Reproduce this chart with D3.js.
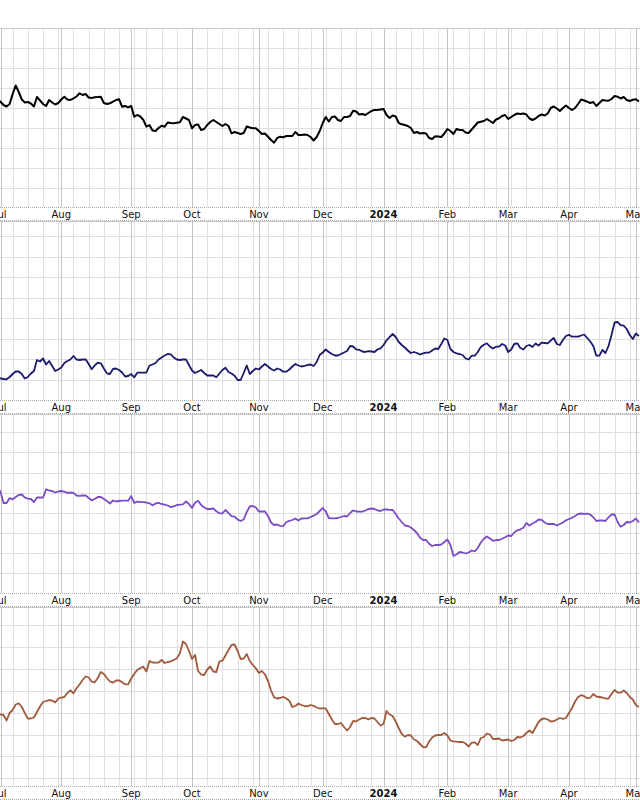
<!DOCTYPE html>
<html><head><meta charset="utf-8">
<script src="https://cdn.jsdelivr.net/npm/d3@7"></script>
<style>body{margin:0;background:#fff}svg{display:block}</style>
</head><body>
<svg id="chart" width="640" height="800"></svg>
<script>
// ---- data ----
const startDate = "2023-06-30";
const endDate = "2024-05-02";
const holidays = ["2023-07-04","2023-09-04","2023-11-23","2023-12-25","2024-01-01","2024-01-15","2024-02-19","2024-03-29"];
const monthLabels = ["Jul","Aug","Sep","Oct","Nov","Dec","2024","Feb","Mar","Apr","May"];
const boldLabels = ["2024"];

const seriesA = [107,105.3,102,100.5,103,113,121.5,115,107.5,104.5,
105,103.5,100.5,110,106.5,103,101,107,104.5,102.5,
104,107.5,110.3,107.5,107,108.7,110.5,113.7,112,113,
109.5,109,109.7,110,110.3,104,103,103.7,105.3,107,
107.7,100.3,101,99.7,101,90.3,92,90.5,87,80.3,
82,76.5,76,79,81.3,80.3,84.5,84,83.7,84.3,
84.7,90,88.5,87,78.7,82,82.5,77,78,82,
85,87,85,83,81,83,81,73.7,75,74,
73,74,80.5,79.5,78.7,78.7,76,73,73.5,70.3,
67,64.3,69,70.3,69.7,71,71,71,75,72,
72,72.5,72,70,66.5,70,76,84,90,85.5,
90,90.5,87,86,90,90,91,96.3,95.5,92.5,
93,92,94,96,97,97,97.5,98,92,89,
91.5,90.5,84,82.7,82,81,79,74,75,73.5,
74,73.5,69,68,70.7,70.5,70,73.5,78,76,
73,78,77,77,74.5,74,77.5,81,84.5,85.3,
86,88,86,84,87.5,88.7,91,92,88,90,
92,93.5,93,93.5,92.5,88.5,87,88.5,91,92.5,
91.5,93.5,99,100.5,98.5,96,99,101.5,99,97,
99,103,107.5,106.5,105.3,104,105,101,104,107,
106.5,106.3,108,111,110.3,108.5,110,107,106,107.2,
107.7,105.5];

const seriesB = [22,21.7,21,20.7,23,26,28.5,28.5,26,21.5,
23,26.5,29,40,38.5,41.5,35.5,39,34,29,
30.5,32.5,37,39,40.5,44,40.5,40,40.5,40.7,
36,30.7,34.5,37.3,36.7,31.5,26.7,26,31,31.5,
30,27.5,23.5,24,26,22.7,27.3,27.3,27.3,27.5,
34.5,35.5,37,40.5,42.5,44.5,46,45.7,42.5,40.5,
40,40.5,40.7,35,29.5,27,28.5,30,27,24.5,
24.5,24.5,22.7,26.5,30,32.3,28,26.5,24.3,20,
20,27,34.5,26,29,31.5,30.5,33.5,36,33.5,
31,29.5,31.5,30.5,28.3,28.3,30.5,33.5,36,34.5,
33.5,34.2,35,35.5,34,38,45,47.5,50.5,48,
46,44.5,44.5,46,47.5,49,54,53.5,50.7,50.2,
48.5,48,48.8,48.5,48,50.5,51.7,55,59.7,63,
66,63,58,55,52.5,49.5,47,48,47,45.5,
46.7,47.4,47.5,49.5,51.5,51,56,61.5,60,51,
48,46.7,46,45,41.5,40.5,44.3,44.3,48,53,
55.3,56.7,53.5,51.5,53.3,53.3,56,54.5,48,50.5,
56,56.7,52,50.5,54,55,53,56.5,54.5,57.3,
57,56.7,59.5,62,56,55,60,64,65.2,63.3,
63.3,63.3,64.5,65.5,62,58.5,54,44.3,44.3,50,
47,54,65,77.5,78,74.8,74.3,71,65,61,
66.5,64];

const seriesC = [106,101,90,90,95,93.7,96,98,98.5,95.5,
94.3,94,91,95.5,95.5,95.3,103.7,102.5,101.8,100.5,
101.5,102,101.3,100,100.5,100.2,97.5,97.2,97.5,97.7,
95,92.7,94,96,96,94,92,89.5,92.5,91.5,
92,92.3,92.3,92.3,97,90,91.3,91,90.8,90.5,
89.7,87.7,89.5,90.2,89,88.3,87.5,86,86.7,88,
88.3,88.7,91.5,89,85,90.3,92.2,88,85.5,84,
84,84.7,81.7,79.7,79.7,83,80,76.8,76.4,73.5,
72,73.5,81,86.5,87,85.5,81.5,81.5,81.5,77,
70.5,68,68.5,67.2,66.8,71,72.2,73,74.5,72.5,
74.5,74.7,74.7,76,77.3,79,82,85,81.5,75,
74.7,74.7,75,76,77,76.5,80,82.7,81.5,81.3,
81.3,82.5,83.8,84.5,84,82.7,82,83.5,83.5,83.2,
83,79,74.5,71,67.5,67,65.5,63,60,55.2,
53,53,49.3,47,48,48,48.5,51,53.5,48,
37,38.5,41,40.5,39.5,40.5,42.5,41.7,45,50.5,
54.2,56.5,54.5,52.2,53,53,54.2,55.7,57.5,57,
60.5,62.7,63.7,65.3,70,67.5,69.5,71,73.5,73.2,
70.5,69,69,69,67.5,69,70.5,72.7,74,75.2,
77,79,79.5,79.2,79.3,78.5,75.7,72,72.5,72.5,
72,75.7,78.5,78.5,71,66.3,68,71,70.5,72,
74.5,70.5];

const seriesD = [73,71.7,71,65.5,73,76,81.5,82.7,79,73,
67.3,67.5,68.5,74,79.5,84,85,85.8,85.5,83.5,
87.5,88.3,89,93,95.7,92.7,97.7,101.5,106,109.5,
108.5,104.3,103.7,108,114,112,108,104.5,103.3,105.5,
105.7,103.7,101.7,101.7,107.5,112.2,116,118,119.3,114.5,
125,123.5,123.3,123.5,126,123,124,124.7,126,127.7,
132.5,144.5,142,135,127,131,115,111.5,111,116.5,
119.5,114.5,114,124.5,125.3,130.5,136,141,141.5,135,
127,127.5,132,125,121,117.7,113,115,111.5,105,
95.5,88.7,87.5,88,89.2,87.5,85.3,79,80,82.5,
81,80,79.7,81,80.2,78.5,77.5,77.7,77.7,72,
66.5,62,62,63,59,55.5,59,65,64.7,66.5,
68,68,66.7,68,67.5,64,60.5,62,75,71.5,
70,64.5,58,52,49.3,51,50.5,46.5,45,42,
39,38.7,44.5,48.5,50.5,51,51,53,50.5,45.5,
44.7,44.3,44,44,42.5,39.5,43.3,43.7,41,48,
49,52.5,51.5,47,47,47.5,45.5,46,46.5,45,
46,49,48.5,50,53,55.5,53,58.5,64,67,
67.5,66.5,64.5,64.8,66.5,68,67.2,68,73,78,
84.5,89,90.8,89.8,87.8,88.2,92,89.5,89,88.5,
87.5,87.4,92,96,93.5,93.3,95.5,93,89,86.5,
81,79];

const seriesList = [seriesA, seriesB, seriesC, seriesD];
const seriesColors = ["#000000", "#1b1a6b", "#7c4cc6", "#a05a3e"];
const yMax = [179, 179, 179, 179];
const gridStart = [19.3, 20.5, 20, 7.7];
const gridStep = [19.9, 20.5, 20.1, 21.9];

// ---- trading calendar ----
const parse = d3.utcParse("%Y-%m-%d");
const fmt = d3.utcFormat("%Y-%m-%d");
const holidaySet = new Set(holidays);
const dates = d3.utcDay.range(parse(startDate), d3.utcDay.offset(parse(endDate), 1))
  .filter(d => d.getUTCDay() !== 0 && d.getUTCDay() !== 6 && !holidaySet.has(fmt(d)));

const monthStarts = [], weekStarts = [];
dates.forEach((d, i) => {
  if (i === 0) return;
  const p = dates[i - 1];
  if (d.getUTCMonth() !== p.getUTCMonth()) monthStarts.push(i);
  if (+d3.utcMonday.floor(d) !== +d3.utcMonday.floor(p)) weekStarts.push(i);
});

// ---- layout ----
const W = 640, pxPerDay = 3.04, x0 = 0.5;
const panelTop0 = 28, panelPitch = 193, plotH = 179, bandH = 14;
const first = monthStarts[0];
const x = d3.scaleLinear().domain([first, first + 1]).range([x0, x0 + pxPerDay]);

const svg = d3.select("#chart");
svg.append("rect").attr("width", W).attr("height", 800).attr("fill", "#fff");

seriesList.forEach((vals, p) => {
  const top = panelTop0 + p * panelPitch;
  const y = d3.scaleLinear().domain([0, yMax[p]]).range([top + plotH, top]);
  const g = svg.append("g");
  const clipId = "clip" + p;
  svg.append("clipPath").attr("id", clipId).append("rect")
    .attr("x", 0).attr("y", top).attr("width", W).attr("height", plotH);

  // horizontal grid
  const hg = d3.range(gridStart[p], yMax[p] - 1, gridStep[p]);
  g.selectAll(".hg").data(hg).join("line")
    .attr("x1", 0).attr("x2", W)
    .attr("y1", d => Math.round(y(d)) + 0.5).attr("y2", d => Math.round(y(d)) + 0.5)
    .attr("stroke", "#dedede").attr("stroke-width", 1);

  // weekly grid
  g.selectAll(".wg").data(weekStarts.filter(i => !monthStarts.includes(i))).join("line")
    .attr("x1", i => Math.round(x(i)) + 0.5).attr("x2", i => Math.round(x(i)) + 0.5)
    .attr("y1", top).attr("y2", top + plotH)
    .attr("stroke", "#e0e0e0").attr("stroke-width", 1);

  // monthly grid
  g.selectAll(".mg").data(monthStarts).join("line")
    .attr("x1", i => Math.round(x(i)) + 0.5).attr("x2", i => Math.round(x(i)) + 0.5)
    .attr("y1", top).attr("y2", top + plotH)
    .attr("stroke", "#c4c4c4").attr("stroke-width", 1);

  // top border
  g.append("line").attr("x1", 0).attr("x2", W)
    .attr("y1", top + 0.5).attr("y2", top + 0.5)
    .attr("stroke", "#c8c8c8");

  // series line
  const line = d3.line().x((d, i) => x(i)).y(d => y(d));
  g.append("path").datum(vals)
    .attr("clip-path", `url(#${clipId})`)
    .attr("d", line)
    .attr("fill", "none")
    .attr("stroke", seriesColors[p])
    .attr("stroke-width", p === 0 ? 2 : 1.8)
    .attr("stroke-linejoin", "round");

  // axis band
  const bTop = top + plotH;
  g.append("rect").attr("x", 0).attr("y", bTop).attr("width", W).attr("height", bandH).attr("fill", "#fff");
  [bTop + 0.5, bTop + bandH - 0.5].forEach(yy => {
    g.append("line").attr("x1", 0).attr("x2", W).attr("y1", yy).attr("y2", yy)
      .attr("stroke", "#a8a8a8").attr("stroke-dasharray", "1,1");
  });
  g.selectAll(".ml").data(monthStarts).join("text")
    .attr("x", i => x(i)).attr("y", bTop + 10.5)
    .attr("text-anchor", "middle")
    .attr("font-family", "DejaVu Sans, Verdana, sans-serif")
    .attr("font-size", 10)
    .attr("font-weight", (i, k) => boldLabels.includes(monthLabels[k]) ? "bold" : "normal")
    .attr("fill", "#111")
    .text((i, k) => monthLabels[k]);
});
</script>
</body></html>
